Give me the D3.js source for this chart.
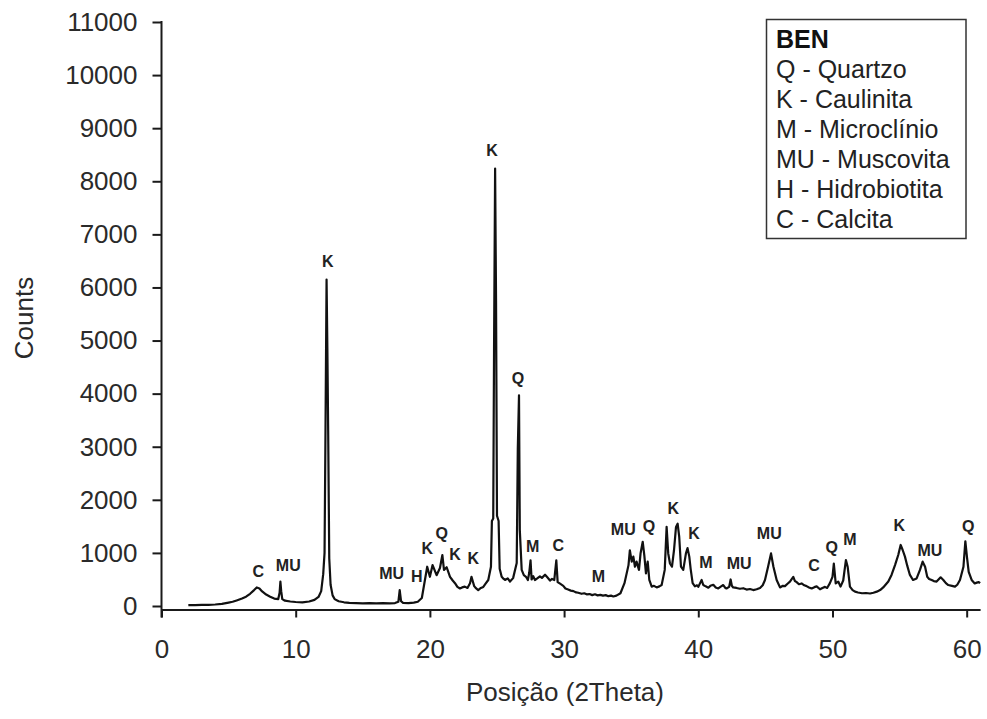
<!DOCTYPE html>
<html>
<head>
<meta charset="utf-8">
<script src="https://cdn.jsdelivr.net/npm/d3@7"></script>
<style>
  html, body { margin: 0; padding: 0; background: #fff; }
  svg { display: block; font-family: "Liberation Sans", Arial, sans-serif; }
</style>
</head>
<body>
<svg id="chart" width="987" height="719"></svg>
<script>
// XRD pattern of sample BEN: [2theta (deg), counts]
const profile = [
  [2.0, 15], [2.5, 18], [3.0, 20], [3.5, 22], [4.0, 28], [4.5, 40], [5.0, 65], [5.3, 80],
  [5.6, 105], [6.0, 140], [6.3, 175], [6.6, 230], [6.9, 300], [7.1, 350], [7.3, 330],
  [7.5, 275], [7.8, 215], [8.1, 175], [8.4, 140], [8.7, 130], [8.8, 250], [8.86, 460],
  [8.92, 280], [9.0, 130], [9.2, 100], [9.6, 85], [10.0, 75], [10.5, 70], [11.0, 85],
  [11.4, 115], [11.7, 170], [11.9, 280], [12.05, 600], [12.15, 1000], [12.22, 3300],
  [12.3, 6150], [12.36, 4850], [12.42, 3300], [12.5, 900], [12.6, 400], [12.75, 200],
  [12.9, 130], [13.2, 90], [13.6, 70], [14.0, 60], [14.5, 55], [15.0, 50], [15.5, 55],
  [16.0, 50], [16.5, 55], [17.0, 50], [17.4, 55], [17.65, 80], [17.75, 300], [17.85, 90],
  [18.0, 60], [18.4, 55], [18.8, 65], [19.1, 80], [19.4, 150], [19.63, 490], [19.8, 740],
  [20.0, 550], [20.2, 770], [20.5, 580], [20.75, 715], [20.93, 960], [21.05, 680],
  [21.25, 730], [21.5, 550], [21.7, 480], [21.87, 430], [22.05, 360], [22.24, 330],
  [22.4, 350], [22.6, 365], [22.8, 340], [22.99, 430], [23.1, 550], [23.3, 375],
  [23.45, 330], [23.6, 300], [23.8, 340], [23.98, 360], [24.15, 420], [24.35, 490],
  [24.55, 740], [24.62, 1600], [24.72, 1650], [24.78, 4800], [24.86, 8240], [24.93, 5750],
  [25.0, 1700], [25.12, 1600], [25.2, 700], [25.35, 550], [25.5, 510], [25.6, 490],
  [25.8, 520], [25.97, 460], [26.2, 525], [26.47, 810], [26.55, 2950], [26.64, 3970],
  [26.7, 1430], [26.84, 680], [27.0, 580], [27.16, 550], [27.3, 490], [27.4, 620],
  [27.5, 860], [27.58, 500], [27.7, 560], [27.83, 490], [28.0, 520], [28.2, 560],
  [28.35, 530], [28.58, 590], [28.75, 540], [28.95, 480], [29.1, 510], [29.27, 490],
  [29.42, 860], [29.52, 450], [29.7, 420], [29.94, 380], [30.1, 330], [30.3, 310],
  [30.5, 290], [30.7, 280], [30.9, 255], [31.06, 250], [31.3, 230], [31.5, 240],
  [31.68, 220], [31.9, 225], [32.1, 205], [32.3, 220], [32.5, 200], [32.7, 210],
  [32.9, 195], [33.1, 205], [33.3, 185], [33.5, 195], [33.67, 180], [33.9, 195],
  [34.2, 240], [34.5, 430], [34.8, 770], [34.9, 1050], [35.04, 835], [35.16, 930],
  [35.28, 740], [35.4, 835], [35.58, 680], [35.7, 995], [35.86, 1210], [35.98, 950],
  [36.1, 615], [36.23, 835], [36.35, 490], [36.53, 365], [36.7, 380], [36.9, 350],
  [37.1, 370], [37.27, 395], [37.5, 680], [37.64, 1490], [37.76, 990], [37.89, 800],
  [38.04, 740], [38.19, 1050], [38.34, 1490], [38.46, 1550], [38.58, 1300], [38.71, 740],
  [38.88, 680], [39.08, 990], [39.2, 1090], [39.33, 930], [39.43, 700], [39.58, 430],
  [39.75, 370], [39.9, 390], [40.0, 360], [40.25, 490], [40.37, 395], [40.55, 370],
  [40.75, 345], [40.9, 380], [41.12, 400], [41.3, 350], [41.49, 330], [41.7, 370],
  [41.86, 395], [42.0, 345], [42.1, 330], [42.3, 360], [42.41, 500], [42.5, 380],
  [42.6, 350], [42.85, 340], [43.1, 325], [43.35, 335], [43.6, 310], [43.85, 320],
  [44.1, 300], [44.35, 315], [44.6, 340], [44.8, 390], [44.97, 490], [45.2, 740],
  [45.42, 990], [45.6, 740], [45.84, 490], [46.09, 350], [46.3, 380], [46.46, 375],
  [46.65, 420], [46.83, 460], [47.08, 550], [47.2, 470], [47.33, 450], [47.5, 410],
  [47.7, 425], [47.9, 390], [48.07, 375], [48.25, 350], [48.45, 330], [48.65, 355],
  [48.82, 370], [49.07, 315], [49.25, 340], [49.44, 360], [49.6, 340], [49.8, 425],
  [50.0, 550], [50.1, 800], [50.24, 425], [50.43, 460], [50.6, 365], [50.8, 480],
  [51.0, 865], [51.13, 740], [51.3, 365], [51.5, 300], [51.68, 270], [51.9, 255],
  [52.2, 240], [52.5, 245], [52.8, 235], [53.05, 250], [53.3, 270], [53.55, 300],
  [53.78, 350], [54.16, 460], [54.4, 585], [54.66, 770], [54.9, 960], [55.08, 1150],
  [55.23, 1055], [55.4, 930], [55.57, 760], [55.77, 585], [56.0, 490], [56.27, 520],
  [56.52, 680], [56.72, 835], [56.9, 740], [57.06, 550], [57.2, 510], [57.39, 490],
  [57.55, 470], [57.76, 460], [58.06, 540], [58.26, 490], [58.45, 430], [58.63, 395],
  [58.9, 380], [59.13, 365], [59.3, 400], [59.5, 490], [59.76, 740], [59.9, 1220],
  [60.03, 900], [60.15, 645], [60.37, 490], [60.6, 425], [60.75, 440], [60.9, 450],
  [61.0, 430]
];

// Phase labels placed over the peaks: [text, 2theta, counts at baseline]
const peakLabels = [
  ["C", 7.21, 550], ["MU", 9.45, 650], ["K", 12.4, 6380], ["MU", 17.15, 500],
  ["H", 19.02, 450], ["K", 19.81, 980], ["Q", 20.88, 1260], ["K", 21.87, 875],
  ["K", 23.23, 790], ["K", 24.63, 8470], ["Q", 26.56, 4190], ["M", 27.66, 1025],
  ["C", 29.57, 1045], ["M", 32.55, 460], ["MU", 34.41, 1330], ["Q", 36.33, 1395],
  ["K", 38.14, 1735], ["K", 39.68, 1260], ["M", 40.57, 715], ["MU", 43.05, 700],
  ["MU", 45.29, 1260], ["C", 48.62, 650], ["Q", 49.94, 1000], ["M", 51.3, 1140],
  ["K", 54.98, 1420], ["MU", 57.26, 950], ["Q", 60.12, 1395]
];

const legendTitle = "BEN";
const legendLines = [
  "Q - Quartzo", "K - Caulinita", "M - Microclínio", "MU - Muscovita",
  "H - Hidrobiotita", "C - Calcita"
];

const xTicks = [0, 10, 20, 30, 40, 50, 60];
const yTicks = [0, 1000, 2000, 3000, 4000, 5000, 6000, 7000, 8000, 9000, 10000, 11000];
const xTitle = "Posição (2Theta)";
const yTitle = "Counts";

const ink = "#1a1a1a";
const svg = d3.select("#chart");

const x = d3.scaleLinear().domain([0, 61]).range([161.5, 980.1]);
const y = d3.scaleLinear().domain([0, 11000]).range([606, 22]);
const xAxisY = 609.5;

// X axis
const gx = svg.append("g")
  .attr("transform", `translate(0,${xAxisY})`)
  .call(d3.axisBottom(x).tickValues(xTicks).tickFormat(d3.format("d"))
    .tickSize(8).tickSizeOuter(0).tickPadding(22));
gx.select(".domain").attr("stroke", ink).attr("stroke-width", 2);
gx.selectAll(".tick line").attr("stroke", ink).attr("stroke-width", 2);
gx.selectAll(".tick text").attr("fill", "#2a2a2a").style("font-size", "26px")
  .style("font-family", "'Liberation Sans', Arial, sans-serif");

// Y axis
const gy = svg.append("g")
  .attr("transform", `translate(${x(0)},0)`)
  .call(d3.axisLeft(y).tickValues(yTicks).tickFormat(d3.format("d"))
    .tickSize(9).tickSizeOuter(0).tickPadding(15));
gy.select(".domain").remove();
gy.append("line")
  .attr("x1", 0).attr("x2", 0)
  .attr("y1", y(11000) - 1).attr("y2", xAxisY + 8)
  .attr("stroke", ink).attr("stroke-width", 2);
gy.selectAll(".tick line").attr("stroke", ink).attr("stroke-width", 2);
gy.selectAll(".tick text").attr("fill", "#2a2a2a").style("font-size", "26px")
  .style("font-family", "'Liberation Sans', Arial, sans-serif");

// Diffraction profile
const line = d3.line().x(d => x(d[0])).y(d => y(d[1]));
svg.append("path")
  .datum(profile)
  .attr("d", line)
  .attr("fill", "none")
  .attr("stroke", "#111")
  .attr("stroke-width", 2.2)
  .attr("stroke-linejoin", "round");

// Peak labels
svg.append("g").selectAll("text")
  .data(peakLabels)
  .join("text")
  .attr("x", d => x(d[1]))
  .attr("y", d => y(d[2]))
  .attr("text-anchor", "middle")
  .attr("font-weight", "bold")
  .attr("font-size", 16)
  .attr("fill", "#222")
  .text(d => d[0]);

// Axis titles
svg.append("text")
  .attr("x", 565).attr("y", 701)
  .attr("text-anchor", "middle")
  .attr("font-size", 26)
  .attr("fill", "#2a2a2a")
  .text(xTitle);

svg.append("text")
  .attr("transform", "translate(33,318) rotate(-90)")
  .attr("text-anchor", "middle")
  .attr("font-size", 26)
  .attr("fill", "#2a2a2a")
  .text(yTitle);

// Legend box
const lg = svg.append("g");
lg.append("rect")
  .attr("x", 766.5).attr("y", 19.5)
  .attr("width", 199.5).attr("height", 219)
  .attr("fill", "#fff").attr("stroke", "#333").attr("stroke-width", 1.5);
lg.append("text")
  .attr("x", 776).attr("y", 48)
  .attr("font-size", 25).attr("font-weight", "bold").attr("fill", "#111")
  .text(legendTitle);
lg.selectAll("text.item")
  .data(legendLines)
  .join("text")
  .attr("class", "item")
  .attr("x", 776)
  .attr("y", (d, i) => 78 + i * 30)
  .attr("font-size", 25)
  .attr("fill", "#222")
  .text(d => d);
</script>
</body>
</html>
